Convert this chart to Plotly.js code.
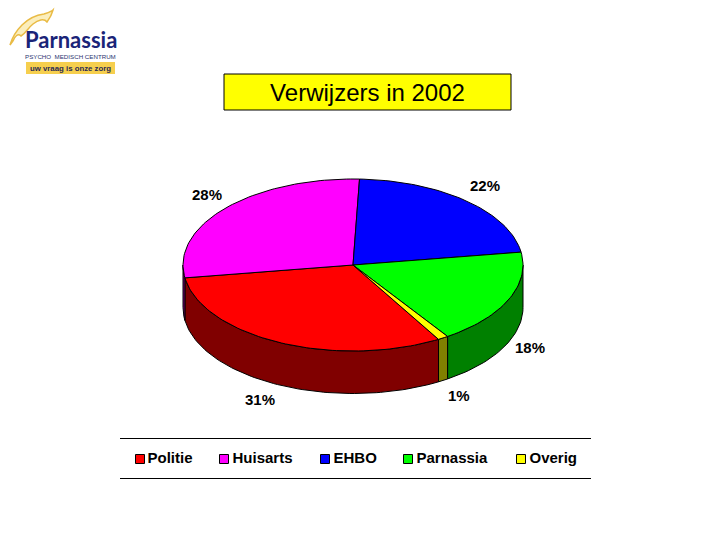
<!DOCTYPE html>
<html>
<head>
<meta charset="utf-8">
<script src="https://cdn.plot.ly/plotly-3.0.1.min.js"></script>
<style>html,body{margin:0;padding:0;background:#fff}#chart{width:720px;height:540px}</style>
</head>
<body>
<div id="chart"></div>
<script>
const categories = ["Politie", "Huisarts", "EHBO", "Parnassia", "Overig"];
const shares = [31, 28, 22, 18, 1];
const shareLabels = ["31%", "28%", "22%", "18%", "1%"];
const topColors = ["#ff0000", "#ff00ff", "#0000ff", "#00ff00", "#ffff00"];
const wallColors = ["#800000", "#800080", "#000080", "#008000", "#808000"];

// Geometry of the tilted pie (figure pixels)
const cx = 353, cy = 265, rx = 170, ry = 86, depth = 42.5, startAngle = 149.8;
const labelPos = [[260, 399], [207, 194], [485, 185], [530, 347], [459, 395]];
const legendSwatchX = [140, 224, 325, 408, 521];
const legendLabelX = [147.5, 232.5, 333.5, 416.5, 529.5];
const legendY = 459;

const rad = d => d * Math.PI / 180;
const px = t => cx + rx * Math.sin(rad(t));
const py = t => cy - ry * Math.cos(rad(t));
function arc(a, b) { const o = []; const n = Math.max(2, Math.ceil((b - a) / 1.5));
  for (let i = 0; i <= n; i++) o.push(a + (b - a) * i / n); return o; }

const walls = [], tops = [];
let a = startAngle;
shares.forEach((v, i) => {
  const b = a + v * 3.6;
  const ts = arc(a, b);
  tops.push({ type: "scatter", mode: "lines", fill: "toself", fillcolor: topColors[i], name: categories[i],
    x: [cx, ...ts.map(px), cx], y: [cy, ...ts.map(py), cy], line: { color: "#000", width: 1 },
    showlegend: false, hoverinfo: "name" });
  // visible front wall: angles 90..270 (also modulo 360)
  for (const off of [0, -360]) {
    const w1 = Math.max(a + off, 90), w2 = Math.min(b + off, 270);
    if (w2 > w1) {
      const ws = arc(w1, w2);
      walls.push({ type: "scatter", mode: "lines", fill: "toself", fillcolor: wallColors[i], name: categories[i],
        x: [...ws.map(px), ...ws.slice().reverse().map(px), px(ws[0])],
        y: [...ws.map(py), ...ws.slice().reverse().map(t => py(t) + depth), py(ws[0])],
        line: { color: "#000", width: 1 }, showlegend: false, hoverinfo: "skip" });
    }
  }
  a = b;
});

const legendSwatches = { type: "scatter", mode: "markers", x: legendSwatchX, y: categories.map(() => legendY),
  marker: { symbol: "square", size: 9, color: topColors, line: { color: "#000", width: 1 } },
  showlegend: false, hoverinfo: "skip" };
const legendLabels = { type: "scatter", mode: "text", x: legendLabelX, y: categories.map(() => legendY + 0.5),
  text: categories, textposition: "middle right",
  textfont: { family: "Liberation Sans, Arial, sans-serif", size: 15, color: "#000", weight: 700 },
  showlegend: false, hoverinfo: "skip" };

const pctAnn = shareLabels.map((s, i) => ({ text: "<b>" + s + "</b>", x: labelPos[i][0], y: labelPos[i][1],
  xref: "x", yref: "y", showarrow: false, font: { family: "Liberation Sans, Arial, sans-serif", size: 15, color: "#000" } }));

const logoAnn = [
  { text: "Parnassia", x: 70.5, y: 39, font: { family: "Lato, 'Noto Sans', sans-serif", size: 22, color: "#1a2478", weight: 700 } },
  { text: "PSYCHO  MEDISCH CENTRUM", x: 70.5, y: 56, font: { family: "Liberation Sans, sans-serif", size: 6.2, color: "#2a3470" } },
  { text: "<b>uw vraag is onze zorg</b>", x: 70.5, y: 68, font: { family: "Liberation Sans, sans-serif", size: 7.8, color: "#2a2a55" } }
].map(o => ({ ...o, xref: "x", yref: "y", showarrow: false }));

const layout = {
  width: 720, height: 540, margin: { l: 0, r: 0, t: 0, b: 0 }, paper_bgcolor: "#fff", plot_bgcolor: "#fff",
  showlegend: false,
  title: { text: "Verwijzers in 2002", x: 367.5 / 720, xanchor: "center", y: 1 - 93 / 540, yanchor: "middle",
    font: { family: "Liberation Sans, Arial, sans-serif", size: 24, color: "#000" } },
  xaxis: { range: [0, 720], visible: false, fixedrange: true },
  yaxis: { range: [540, 0], visible: false, fixedrange: true },
  shapes: [
    { type: "rect", xref: "x", yref: "y", x0: 224, x1: 511, y0: 74, y1: 110, fillcolor: "#ffff00", line: { color: "#000", width: 1 }, layer: "below" },
    { type: "line", xref: "x", yref: "y", x0: 120, x1: 591, y0: 438.5, y1: 438.5, line: { color: "#000", width: 1 } },
    { type: "line", xref: "x", yref: "y", x0: 120, x1: 591, y0: 478.5, y1: 478.5, line: { color: "#000", width: 1 } },
    { type: "rect", xref: "x", yref: "y", x0: 26, x1: 115, y0: 62, y1: 74, fillcolor: "#f6cf4e", line: { width: 0 }, layer: "below" },
    { type: "path", xref: "x", yref: "y", layer: "below", fillcolor: "#fbeebc", line: { color: "#e9bb45", width: 1.5 },
      path: "M 10 45 C 12 38 16 31 22 25 C 28 19 36 15 44 14 C 47 13 51 12 53 10 C 52 14 50 18 47 22 C 44 18 38 20 33 24 C 28 28 26 33 21 36 C 18 33 15 36 13 41 Z" }
  ],
  annotations: [...pctAnn, ...logoAnn]
};

Plotly.newPlot("chart", [...walls, ...tops, legendSwatches, legendLabels], layout, { displayModeBar: false, staticPlot: true });
</script>
</body>
</html>
